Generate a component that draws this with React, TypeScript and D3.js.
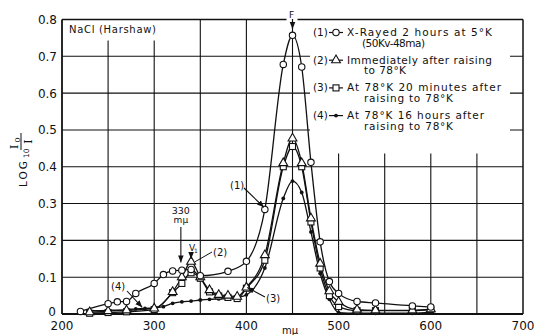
import { useEffect, useRef } from 'react';
import * as d3 from 'd3';

const xTicks = [200, 300, 400, 500, 600, 700];
const xGrid = [250, 300, 350, 400, 450, 500, 550, 600, 650];
const yTicks = [0, 0.1, 0.2, 0.3, 0.4, 0.5, 0.6, 0.7, 0.8];
const yTickLabels = ['0', '0.1', '0.2', '0.3', '0.4', '0.5', '0.6', '0.7', '0.8'];

// (1) X-rayed 2 hours at 5K
const curve1: [number, number][] = [
  [220, 0.007], [250, 0.028], [260, 0.033], [270, 0.034], [280, 0.056], [300, 0.083],
  [310, 0.107], [320, 0.117], [330, 0.119], [340, 0.121], [350, 0.104], [380, 0.116],
  [400, 0.143], [420, 0.284], [440, 0.678], [450, 0.757], [460, 0.671], [470, 0.412],
  [480, 0.196], [490, 0.088], [500, 0.056], [520, 0.034], [540, 0.03], [580, 0.022], [600, 0.019],
];
// (2) immediately after raising to 78K
const curve2: [number, number][] = [
  [230, 0.005], [250, 0.008], [270, 0.01], [300, 0.015], [320, 0.06], [330, 0.1],
  [340, 0.142], [350, 0.1], [360, 0.065], [370, 0.052], [380, 0.05], [390, 0.047],
  [400, 0.072], [420, 0.16], [440, 0.41], [450, 0.477], [460, 0.41], [470, 0.26],
  [480, 0.137], [490, 0.062], [500, 0.033], [520, 0.012], [540, 0.01], [580, 0.01], [600, 0.013],
];
// (3) at 78K 20 minutes after raising
const curve3: [number, number][] = [
  [230, 0.002], [250, 0.004], [270, 0.006], [300, 0.012], [320, 0.058], [330, 0.083],
  [340, 0.112], [350, 0.097], [360, 0.06], [370, 0.049], [380, 0.045], [390, 0.042],
  [400, 0.07], [420, 0.146], [440, 0.4], [450, 0.455], [460, 0.4], [470, 0.25],
  [480, 0.125], [490, 0.05], [500, 0.02], [520, 0.009], [540, 0.009], [580, 0.009], [600, 0.012],
];
// (4) at 78K 16 hours after raising
const curve4: [number, number][] = [
  [230, 0.009], [250, 0.01], [270, 0.012], [280, 0.014], [290, 0.015], [300, 0.017],
  [310, 0.02], [320, 0.029], [330, 0.033], [340, 0.035], [350, 0.038], [360, 0.04],
  [370, 0.041], [380, 0.042], [390, 0.045], [400, 0.052], [420, 0.125], [440, 0.314],
  [450, 0.361], [460, 0.33], [470, 0.223], [480, 0.11], [490, 0.04], [500, 0.004],
  [520, 0.002], [540, 0.002], [580, 0.002], [600, 0.005],
];

type Sym = 'circle' | 'triangle' | 'square' | 'dot';

const series: { data: [number, number][]; symbol: Sym }[] = [
  { data: curve4, symbol: 'dot' },
  { data: curve3, symbol: 'square' },
  { data: curve2, symbol: 'triangle' },
  { data: curve1, symbol: 'circle' },
];

const legendRows: { id: string; symbol: Sym; lines: string[]; widths: number[] }[] = [
  { id: '(1)', symbol: 'circle', lines: ['X-Rayed 2 hours at 5°K', '(50Kv-48ma)'], widths: [145, 63] },
  { id: '(2)', symbol: 'triangle', lines: ['Immediately after raising', 'to 78°K'], widths: [145, 42] },
  { id: '(3)', symbol: 'square', lines: ['At 78°K 20 minutes after', 'raising to 78°K'], widths: [154, 89] },
  { id: '(4)', symbol: 'dot', lines: ['At 78°K 16 hours after', 'raising to 78°K'], widths: [137, 89] },
];

const FONT = 'DejaVu Sans, sans-serif';

function drawSymbol(g: d3.Selection<SVGGElement, unknown, null, undefined>, kind: Sym, cx: number, cy: number) {
  if (kind === 'circle') {
    g.append('circle').attr('cx', cx).attr('cy', cy).attr('r', 3.2)
      .attr('fill', '#fff').attr('stroke', '#111').attr('stroke-width', 1.1);
  } else if (kind === 'square') {
    g.append('rect').attr('x', cx - 3).attr('y', cy - 3).attr('width', 6).attr('height', 6)
      .attr('fill', '#fff').attr('stroke', '#111').attr('stroke-width', 1.1);
  } else if (kind === 'triangle') {
    g.append('path').attr('d', d3.symbol(d3.symbolTriangle, 34)())
      .attr('transform', `translate(${cx},${cy})`)
      .attr('fill', '#fff').attr('stroke', '#111').attr('stroke-width', 1.1);
  } else {
    g.append('circle').attr('cx', cx).attr('cy', cy).attr('r', 1.9).attr('fill', '#111');
  }
}

export default function App() {
  const svgRef = useRef<SVGSVGElement>(null);

  useEffect(() => {
    if (!svgRef.current) return;
    const width = 537;
    const height = 335;
    const svg = d3.select(svgRef.current);
    svg.selectAll('*').remove();
    svg.attr('width', width).attr('height', height);

    const x = d3.scaleLinear().domain([200, 700]).range([62, 523]);
    const y = d3.scaleLinear().domain([0, 0.8]).range([314, 19.5]);
    const ink = '#111';

    svg.append('rect').attr('width', width).attr('height', height).attr('fill', '#fff');

    const defs = svg.append('defs');
    defs.append('marker').attr('id', 'arr').attr('viewBox', '0 0 10 10')
      .attr('refX', 10).attr('refY', 5).attr('markerWidth', 7).attr('markerHeight', 7)
      .attr('markerUnits', 'userSpaceOnUse').attr('orient', 'auto')
      .append('path').attr('d', 'M0,1 L10,5 L0,9 Z').attr('fill', ink);

    const grid = svg.append('g').attr('stroke', ink).attr('stroke-width', 1.1);
    xGrid.forEach((v) => {
      grid.append('line').attr('x1', x(v)).attr('x2', x(v)).attr('y1', y(0.8)).attr('y2', y(0));
    });
    yTicks.slice(1, -1).forEach((v) => {
      grid.append('line').attr('x1', x(200)).attr('x2', x(700)).attr('y1', y(v)).attr('y2', y(v));
    });

    // blank areas for the title and the legend
    svg.append('rect').attr('x', x(200) + 1).attr('y', y(0.8)).attr('width', 100).attr('height', 21).attr('fill', '#fff');
    svg.append('rect').attr('x', 310).attr('y', y(0.8)).attr('width', 200).attr('height', 134).attr('fill', '#fff');

    // frame
    const frame = svg.append('g').attr('stroke', ink).attr('stroke-width', 1.5).attr('fill', 'none');
    frame.append('line').attr('x1', x(200)).attr('x2', x(700)).attr('y1', y(0.8)).attr('y2', y(0.8));
    frame.append('line').attr('x1', x(200)).attr('x2', x(700)).attr('y1', y(0)).attr('y2', y(0)).attr('stroke-width', 1.8);
    frame.append('line').attr('x1', x(200)).attr('x2', x(200)).attr('y1', y(0.8)).attr('y2', y(0)).attr('stroke-width', 1.8);
    frame.append('line').attr('x1', x(700)).attr('x2', x(700)).attr('y1', y(0.8)).attr('y2', y(0));

    // F band label on the top border
    svg.append('rect').attr('x', x(450) - 6).attr('y', 10).attr('width', 11).attr('height', 13).attr('fill', '#fff');
    svg.append('text').attr('x', x(450) - 1).attr('y', 17.5).attr('text-anchor', 'middle')
      .attr('font-family', FONT).attr('font-size', 9).attr('fill', ink).text('F');
    svg.append('line').attr('x1', x(450)).attr('x2', x(450)).attr('y1', 19).attr('y2', 29)
      .attr('stroke', ink).attr('stroke-width', 1.2).attr('marker-end', 'url(#arr)');

    // curves
    const line = d3.line<[number, number]>()
      .x((d) => x(d[0]))
      .y((d) => y(d[1]))
      .curve(d3.curveMonotoneX);
    const curves = svg.append('g');
    series.forEach((s) => {
      curves.append('path').attr('d', line(s.data)).attr('fill', 'none')
        .attr('stroke', ink).attr('stroke-width', 1.3);
    });
    series.forEach((s) => {
      const mg = curves.append('g');
      s.data.forEach((d) => drawSymbol(mg, s.symbol, x(d[0]), y(d[1])));
    });

    // axis labels
    const labels = svg.append('g').attr('font-family', FONT).attr('fill', ink).attr('font-size', 12);
    yTicks.forEach((v, i) => {
      labels.append('text').attr('x', v === 0 ? 56 : 57).attr('y', y(v) + (v === 0 ? 1.5 : 4.5))
        .attr('text-anchor', 'end').text(yTickLabels[i]);
    });
    xTicks.forEach((v) => {
      labels.append('text').attr('x', x(v)).attr('y', 329.5).attr('text-anchor', 'middle').text(String(v));
    });
    labels.append('text').attr('x', 290).attr('y', 334).attr('text-anchor', 'middle').attr('font-size', 10).text('mμ');

    // y axis title: LOG10 Io / I, rotated
    const yt = svg.append('g').attr('transform', 'translate(27,187) rotate(-90)')
      .attr('fill', ink).attr('font-family', FONT);
    yt.append('text').attr('x', 0).attr('y', 0).attr('font-size', 10.5).attr('textLength', 26).text('LOG');
    yt.append('text').attr('x', 29).attr('y', 1.5).attr('font-size', 7.5).text('10');
    const serif = 'DejaVu Serif, serif';
    yt.append('text').attr('x', 38).attr('y', -9).attr('font-size', 11).attr('font-family', serif).text('I');
    yt.append('text').attr('x', 44.5).attr('y', -7.5).attr('font-size', 8.5).attr('font-family', serif).text('o');
    yt.append('line').attr('x1', 37).attr('x2', 54).attr('y1', -6).attr('y2', -6)
      .attr('stroke', ink).attr('stroke-width', 1);
    yt.append('text').attr('x', 45.5).attr('y', 4.5).attr('text-anchor', 'middle').attr('font-size', 11).attr('font-family', serif).text('I');

    // title
    svg.append('text').attr('x', 69).attr('y', 33).attr('font-family', FONT).attr('font-size', 10)
      .attr('textLength', 87).attr('fill', ink).text('NaCl (Harshaw)');

    // legend
    const lg = svg.append('g').attr('font-family', FONT).attr('font-size', 10.5).attr('fill', ink);
    legendRows.forEach((r, i) => {
      const base = 36 + i * 27.7;
      lg.append('text').attr('x', 313).attr('y', base).text(r.id);
      lg.append('line').attr('x1', 329).attr('x2', 343).attr('y1', base - 3.5).attr('y2', base - 3.5)
        .attr('stroke', ink).attr('stroke-width', 1.2);
      drawSymbol(lg, r.symbol, 336, base - 3.5);
      lg.append('text').attr('x', 347).attr('y', base).attr('textLength', r.widths[0]).text(r.lines[0]);
      lg.append('text').attr('x', i === 0 ? 362 : 364).attr('y', base + 10.5)
        .attr('textLength', r.widths[1]).text(r.lines[1]);
    });

    // annotations
    const an = svg.append('g').attr('font-family', FONT).attr('font-size', 10).attr('fill', ink);
    const arrow = (x1: number, y1: number, x2: number, y2: number) =>
      an.append('line').attr('x1', x1).attr('y1', y1).attr('x2', x2).attr('y2', y2)
        .attr('stroke', ink).attr('stroke-width', 1.1).attr('marker-end', 'url(#arr)');

    an.append('text').attr('x', x(330) - 1).attr('y', 214).attr('text-anchor', 'middle').attr('font-size', 9.5).text('330');
    an.append('text').attr('x', x(330) - 1).attr('y', 223).attr('text-anchor', 'middle').attr('font-size', 9).text('mμ');
    arrow(x(330) - 1, 227, x(330) - 1, y(0.14));

    an.append('text').attr('x', x(340) - 2).attr('y', 251).attr('font-size', 9).text('V');
    an.append('text').attr('x', x(340) + 3).attr('y', 253).attr('font-size', 6).text('1');
    arrow(x(340), 252, x(340), 259);

    an.append('text').attr('x', 213).attr('y', 256).text('(2)');
    an.append('line').attr('x1', 212).attr('y1', 252).attr('x2', x(340) + 4).attr('y2', y(0.142))
      .attr('stroke', ink).attr('stroke-width', 1);

    an.append('text').attr('x', 230).attr('y', 189).text('(1)');
    arrow(244, 188, x(419), y(0.29));

    an.append('text').attr('x', 111).attr('y', 290).text('(4)');
    arrow(127, 291, x(287), y(0.018));

    an.append('text').attr('x', 266).attr('y', 302).text('(3)');
    arrow(265, 297, x(401), y(0.072));
  }, []);

  return (
    <div style={{ position: 'absolute', left: 0, top: 0 }}>
      <svg ref={svgRef} style={{ display: 'block' }} />
    </div>
  );
}
